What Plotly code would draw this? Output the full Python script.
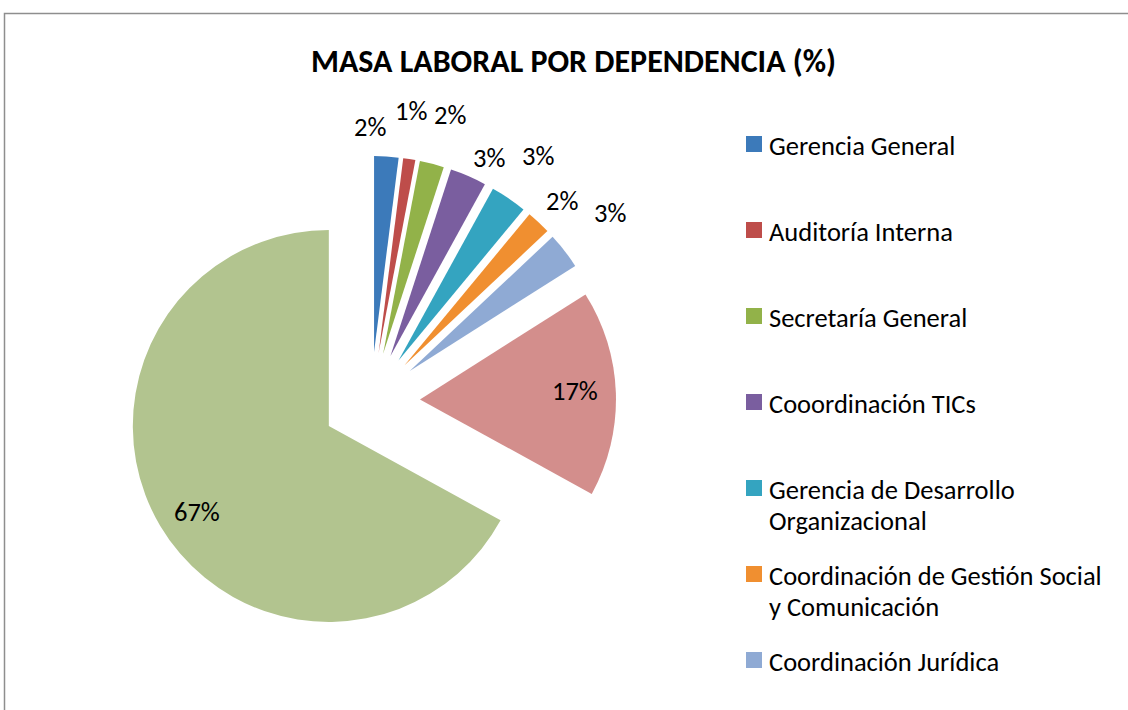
import math
import plotly.graph_objects as go

# ---- data ----
categories = [
    "Gerencia General",
    "Auditoría Interna",
    "Secretaría General",
    "Cooordinación TICs",
    "Gerencia de Desarrollo Organizacional",
    "Coordinación de Gestión Social y Comunicación",
    "Coordinación Jurídica",
    "Dependencia 8",
    "Dependencia 9",
]
values = [2, 1, 2, 3, 3, 2, 3, 17, 67]
legend_labels = [
    "Gerencia General",
    "Auditoría Interna",
    "Secretaría General",
    "Cooordinación TICs",
    "Gerencia de Desarrollo<br>Organizacional",
    "Coordinación de Gestión Social<br>y Comunicación",
    "Coordinación Jurídica",
]
title_text = "MASA LABORAL POR DEPENDENCIA (%)"

# ---- style ----
colors = ["#3C7ABA", "#BE4D4A", "#92B249", "#7A5E9F", "#34A4C0",
          "#F08F30", "#8FAAD4", "#D38E8C", "#B2C48F"]
# small pixel nudges for the labels (Excel staggers them)
label_nudge = [(-19, 10), (-5, -9), (8, -10), (5, 19), (7, -9), (-4, 8), (14, -13), (-2, -4), (3, 6)]
label_outside = [True] * 7 + [False, False]

FONT = "Carlito, Calibri, Lato, sans-serif"
W, H = 1128, 710
OFF = 0  # page body margin removed via post_script


def px(x):
    return (x - OFF) / W


def py(y):
    return 1 - (y - OFF) / H


# pie geometry (screen pixels)
cx, cy, box = 371, 401, 490
pull = 0.25
r = box / (2 * (1 + pull))

fig = go.Figure()
fig.add_trace(go.Pie(
    labels=categories,
    values=values,
    sort=False,
    direction="clockwise",
    rotation=0,
    pull=[pull] * len(values),
    marker=dict(colors=colors, line=dict(width=0)),
    textinfo="none",
    showlegend=False,
    domain=dict(x=[px(cx - box / 2), px(cx + box / 2)],
                y=[py(cy + box / 2), py(cy - box / 2)]),
    hoverinfo="label+percent",
))

shapes = [dict(type="rect", xref="paper", yref="paper",
               x0=px(4.5), y0=py(13.5), x1=px(W + 20), y1=py(H + 20),
               line=dict(color="#8E8E8E", width=1.5), fillcolor="rgba(0,0,0,0)")]
annotations = [dict(text="<b>" + title_text + "</b>", x=px(573), y=py(62),
                    xref="paper", yref="paper", showarrow=False,
                    xanchor="center", yanchor="middle",
                    font=dict(family=FONT, size=32, color="black"))]

# data labels placed along each slice's mid-angle
total = sum(values)
cum = 0
for i, v in enumerate(values):
    theta = math.radians(360 * (cum + v / 2) / total)
    cum += v
    ux, uy = math.sin(theta), -math.cos(theta)
    if label_outside[i]:
        dist = r * (1 + pull) + 40
    else:
        dist = r * (pull + 0.8)
    lx, ly = cx + dist * ux + label_nudge[i][0], cy + dist * uy + label_nudge[i][1]
    annotations.append(dict(text=f"{v}%", x=px(lx), y=py(ly),
                            xref="paper", yref="paper", showarrow=False,
                            xanchor="center", yanchor="middle",
                            font=dict(family=FONT, size=26.5, color="black")))

# legend (first 7 entries visible in the reference)
y0, step, line_h = 146, 86, 31
for i, lab in enumerate(legend_labels):
    yc = y0 + step * i
    shapes.append(dict(type="rect", xref="paper", yref="paper",
                       x0=px(746), x1=px(762), y0=py(yc - 10), y1=py(yc + 6),
                       line=dict(width=0), fillcolor=colors[i]))
    for j, line in enumerate(lab.split("<br>")):
        annotations.append(dict(text=line, x=px(767), y=py(yc + line_h * j),
                                xref="paper", yref="paper", showarrow=False,
                                xanchor="left", yanchor="middle",
                                font=dict(family=FONT, size=26.5, color="black")))

fig.update_layout(
    width=W, height=H,
    margin=dict(l=0, r=0, t=0, b=0, autoexpand=False),
    paper_bgcolor="white",
    plot_bgcolor="white",
    shapes=shapes,
    annotations=annotations,
    font=dict(family=FONT),
)

fig.write_html("out.html",
               config={"displayModeBar": False},
               post_script="document.body.style.margin='0px';document.body.style.overflow='hidden';")
